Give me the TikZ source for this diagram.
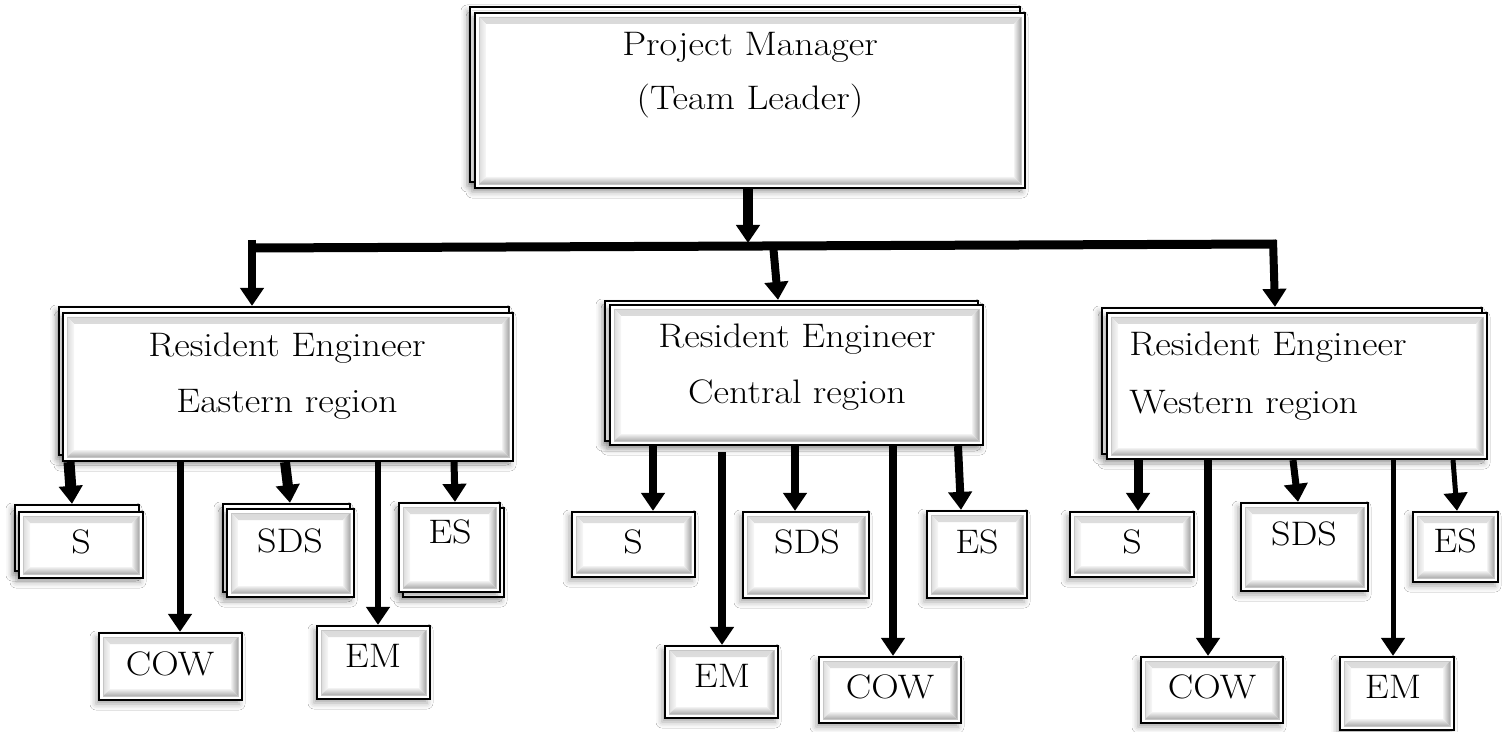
\documentclass[tikz,border=0pt]{standalone}
\usepackage{fontspec}
\usetikzlibrary{arrows.meta,shadows.blur,fit,calc}
\newcommand\mybevel{%
\shade[top color=gray!30,bottom color=gray!6] let \p1=(path picture bounding box.south west),\p2=(path picture bounding box.north east) in (\x1+2pt,\y2-2pt) -- (\x2-2pt,\y2-2pt) -- (\x2-5.5pt,\y2-5.5pt) -- (\x1+5.5pt,\y2-5.5pt) -- cycle;
\shade[left color=gray!28,right color=gray!5] let \p1=(path picture bounding box.south west),\p2=(path picture bounding box.north east) in (\x1+2pt,\y1+2pt) -- (\x1+2pt,\y2-2pt) -- (\x1+5.5pt,\y2-5.5pt) -- (\x1+5.5pt,\y1+5.5pt) -- cycle;
\shade[left color=gray!10,right color=gray!70] let \p1=(path picture bounding box.south west),\p2=(path picture bounding box.north east) in (\x2-2pt,\y1+2pt) -- (\x2-2pt,\y2-2pt) -- (\x2-5.5pt,\y2-5.5pt) -- (\x2-5.5pt,\y1+5.5pt) -- cycle;
\shade[top color=gray!10,bottom color=gray!65] let \p1=(path picture bounding box.south west),\p2=(path picture bounding box.north east) in (\x1+2pt,\y1+2pt) -- (\x2-2pt,\y1+2pt) -- (\x2-5.5pt,\y1+5.5pt) -- (\x1+5.5pt,\y1+5.5pt) -- cycle;
\draw[gray!45,line width=0.4pt] let \p1=(path picture bounding box.south west),\p2=(path picture bounding box.north east) in (\x1+2pt,\y1+2pt) rectangle (\x2-2pt,\y2-2pt);
}
\newcommand\wtxt[1]{\scalebox{1.12}[1]{#1}}
\tikzset{
  shd/.style={blur shadow={shadow xshift=-1.5pt,shadow yshift=-2pt,shadow blur radius=3pt,shadow opacity=35}},
  bx/.style={draw=black,line width=1.1pt,fill=white,inner sep=0pt,shd,path picture={\mybevel}},
  bxback/.style={draw=black,line width=1.1pt,fill=white,inner sep=0pt,shd},
  lbl/.style={inner sep=0pt,anchor=base,font=\fontsize{17}{20}\selectfont},
  arr/.style={line width=#1,-{Triangle[length=9pt,width=11.5pt]}},
  arr/.default=4pt,
  barline/.style={line width=4.5pt}
}
\newcommand\mkbox[5]{\node[bx,fit={(#2,#3) (#4,#5)}] (#1) {};}
\newcommand\mkback[5]{\node[bxback,fit={(#2,#3) (#4,#5)}] (#1) {};}
\begin{document}
\begin{tikzpicture}[x=0.5pt,y=-0.5pt]
\useasboundingbox[fill=white] (0,0) rectangle (1503,732);
% back copies
\mkback{PMb}{470}{7}{1020}{182}
\mkback{Eb}{59}{307}{509}{455}
\mkback{Cb}{605}{301}{978}{441}
\mkback{Wb}{1102}{308}{1482}{454}
\mkback{eSb}{15}{505}{139}{571}
\mkback{eSDSb}{223}{504}{350}{592}
\mkback{eESb}{403}{508}{504}{597}
% main boxes
\mkbox{PM}{475}{13}{1025}{188}
\mkbox{E}{63}{313}{513}{461}
\mkbox{C}{610}{305}{983}{445}
\mkbox{W}{1107}{313}{1487}{459}
\mkbox{eS}{19}{512}{143}{578}
\mkbox{eCOW}{99}{633}{242}{700}
\mkbox{eSDS}{227}{509}{354}{597}
\mkbox{eEM}{317}{626}{430}{699}
\mkbox{eES}{399}{503}{500}{592}
\mkbox{cS}{572}{512}{695}{577}
\mkbox{cEM}{665}{646}{778}{718}
\mkbox{cSDS}{743}{512}{869}{598}
\mkbox{cCOW}{819}{657}{961}{723}
\mkbox{cES}{927}{511}{1027}{598}
\mkbox{wS}{1070}{512}{1194}{577}
\mkbox{wCOW}{1141}{657}{1283}{723}
\mkbox{wSDS}{1241}{503}{1368}{591}
\mkbox{wEM}{1340}{657}{1454}{730}
\mkbox{wES}{1413}{512}{1498}{582}
% texts
\node[lbl] (tPM1) at (750,56) {\wtxt{Project Manager}};
\node[lbl] (tPM2) at (750,110) {\wtxt{(Team Leader)}};
\node[lbl] (tE1) at (287,357) {\wtxt{Resident Engineer}};
\node[lbl] (tE2) at (287,412) {\wtxt{Eastern region}};
\node[lbl] (tC1) at (797,348) {\wtxt{Resident Engineer}};
\node[lbl] (tC2) at (797,403) {\wtxt{Central region}};
\node[lbl,anchor=base west] (tW1) at (1129,356) {\wtxt{Resident Engineer}};
\node[lbl,anchor=base west] (tW2) at (1129,413) {\wtxt{Western region}};
\node[lbl] (teS) at (81,553) {\wtxt{S}};
\node[lbl] (teCOW) at (170,675) {\wtxt{COW}};
\node[lbl] (teSDS) at (290,552) {\wtxt{SDS}};
\node[lbl] (teEM) at (373,667) {\wtxt{EM}};
\node[lbl] (teES) at (450,543) {\wtxt{ES}};
\node[lbl] (tcS) at (633,553) {\wtxt{S}};
\node[lbl] (tcEM) at (722,687) {\wtxt{EM}};
\node[lbl] (tcSDS) at (807,553) {\wtxt{SDS}};
\node[lbl] (tcCOW) at (890,698) {\wtxt{COW}};
\node[lbl] (tcES) at (977,553) {\wtxt{ES}};
\node[lbl] (twS) at (1132,553) {\wtxt{S}};
\node[lbl] (twCOW) at (1212,698) {\wtxt{COW}};
\node[lbl] (twSDS) at (1304,545) {\wtxt{SDS}};
\node[lbl] (twEM) at (1393,698) {\wtxt{EM}};
\node[lbl] (twES) at (1455,552) {\wtxt{ES}};
% bar and junctions
\coordinate (barL) at (250,248);
\coordinate (barR) at (1276,244);
\coordinate (jPM) at (748,243);
\coordinate (jE) at (252,240);
\coordinate (jC) at (773,244);
\coordinate (jW) at (1273,240);
\draw[barline] (barL) -- (barR);
\draw[arr=5pt] ($(PM.south)+(-2,0)$) -- (jPM);
\draw[arr=4pt] (jE) -- ($(Eb.north)+(-32,0)$);
\draw[arr=4pt] (jC) -- ($(Cb.north)+(-13.5,0)$);
\draw[arr=4pt] (jW) -- ($(Wb.north)+(-17,0)$);
% eastern
\draw[arr=5.5pt] ($(E.south)+(-219,0)$) -- ($(eSb.north)+(-5,0)$);
\draw[arr=3.5pt] ($(E.south)+(-108,0)$) -- ($(eCOW.north)+(9.5,0)$);
\draw[arr=5pt] ($(E.south)+(-3,0)$) -- ($(eSDSb.north)+(3.5,0)$);
\draw[arr=3pt] ($(E.south)+(90,0)$) -- ($(eEM.north)+(4.5,0)$);
\draw[arr=3.5pt] ($(E.south)+(166,0)$) -- ($(eES.north)+(5.5,0)$);
% central
\draw[arr=4pt] ($(C.south)+(-143.5,0)$) -- ($(cS.north)+(19.5,0)$);
\draw[arr=4pt] ($(C.south)+(-74.5,6)$) -- ($(cEM.north)+(0.5,0)$);
\draw[arr=4pt] ($(C.south)+(-1.5,0)$) -- ($(cSDS.north)+(-11,0)$);
\draw[arr=4pt] ($(C.south)+(96.5,0)$) -- ($(cCOW.north)+(3,0)$);
\draw[arr=4pt] ($(C.south)+(161.5,0)$) -- ($(cES.north)+(-16,0)$);
% western
\draw[arr=4.5pt] ($(W.south)+(-159,0)$) -- ($(wS.north)+(6,0)$);
\draw[arr=4pt] ($(W.south)+(-89,0)$) -- ($(wCOW.north)+(-4,0)$);
\draw[arr=3.5pt] ($(W.south)+(-4,0)$) -- ($(wSDS.north)+(-6.5,0)$);
\draw[arr=2.5pt] ($(W.south)+(96,0)$) -- ($(wEM.north)+(-4,0)$);
\draw[arr=2.5pt] ($(W.south)+(156,0)$) -- ($(wES.north)+(1.5,0)$);
\end{tikzpicture}
\end{document}
